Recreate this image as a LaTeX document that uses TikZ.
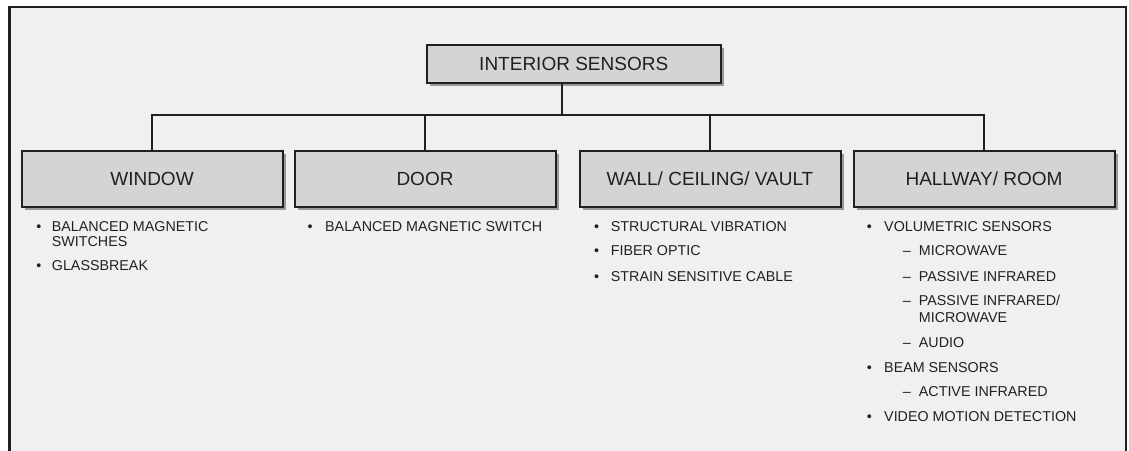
\documentclass[tikz,border=0pt]{standalone}
\usepackage{fontspec}
\setmainfont{Liberation Sans}
\usetikzlibrary{shadows}
\definecolor{ink}{HTML}{231F20}
\definecolor{panel}{HTML}{F0F0F0}
\definecolor{boxfill}{HTML}{D3D4D6}
\definecolor{shade}{HTML}{999999}
\tikzset{
  headbox/.style={draw=ink, line width=2pt, fill=boxfill, text=ink,
    font=\fontsize{19}{22}\selectfont, inner sep=0pt,
    drop shadow={shadow xshift=3.5pt, shadow yshift=-3.5pt, fill=shade, opacity=1}},
  catbox/.style={headbox, minimum width=261pt, minimum height=56pt},
  link/.style={draw=ink, line width=2pt},
  entry/.style={anchor=base west, inner sep=0pt, text=ink, font=\fontsize{14.3}{16}\selectfont},
  dot/.style={anchor=base, inner sep=0pt, text=ink, font=\fontsize{14.3}{16}\selectfont}
}
\begin{document}
\begin{tikzpicture}[x=1pt, y=-1pt]
\useasboundingbox (0,0) rectangle (1129,450);
% framed panel, open at the bottom
\fill[panel] (9.5,7) rectangle (1126,452);
\draw[ink, line width=2.4pt] (9.5,452) -- (9.5,7) -- (1126,7) -- (1126,452);

% boxes
\node[headbox, minimum width=294pt, minimum height=38pt] (top) at (573.7,63.7) {INTERIOR SENSORS};
\node[catbox] (win)  at (152,178.8) {WINDOW};
\node[catbox] (door) at (425,178.8) {DOOR};
\node[catbox] (wall) at (710,178.8) {WALL/ CEILING/ VAULT};
\node[catbox] (hall) at (984,178.8) {HALLWAY/ ROOM};

% connectors
\coordinate (bus) at (0,115);
\coordinate (stem) at (562,0);
\draw[link] (top.south -| stem) -- (stem |- bus);
\draw[link] (win.north) -- (win.north |- bus) -- (hall.north |- bus) -- (hall.north);
\draw[link] (door.north) -- (door.north |- bus);
\draw[link] (wall.north) -- (wall.north |- bus);

% WINDOW list
\node[dot]   (wb1) at (39,231.5) {•};
\node[entry] (wt1) at (51.7,231.5) {BALANCED MAGNETIC};
\node[entry] (wt1b) at (51.7,246.7) {SWITCHES};
\node[dot]   (wb2) at (39,270.7) {•};
\node[entry] (wt2) at (51.7,270.7) {GLASSBREAK};

% DOOR list
\node[dot]   (db1) at (310,231) {•};
\node[entry] (dt1) at (325,231) {BALANCED MAGNETIC SWITCH};

% WALL list
\node[dot]   (lb1) at (596.7,231) {•};
\node[entry] (lt1) at (610.7,231) {STRUCTURAL VIBRATION};
\node[dot]   (lb2) at (596.7,255) {•};
\node[entry] (lt2) at (610.7,255) {FIBER OPTIC};
\node[dot]   (lb3) at (596.7,281) {•};
\node[entry] (lt3) at (610.7,281) {STRAIN SENSITIVE CABLE};

% HALLWAY list
\node[dot]   (hb1) at (869.3,231.7) {•};
\node[entry] (ht1) at (884,231.7) {VOLUMETRIC SENSORS};
\node[entry] (hd1) at (902.7,255) {–};
\node[entry] (hs1) at (918.7,255) {MICROWAVE};
\node[entry] (hd2) at (902.7,281) {–};
\node[entry] (hs2) at (918.7,281) {PASSIVE INFRARED};
\node[entry] (hd3) at (902.7,305.7) {–};
\node[entry] (hs3) at (918.7,305.7) {PASSIVE INFRARED/};
\node[entry] (hs3b) at (918.7,322.3) {MICROWAVE};
\node[entry] (hd4) at (902.7,347.7) {–};
\node[entry] (hs4) at (918.7,347.7) {AUDIO};
\node[dot]   (hb2) at (869.3,372.3) {•};
\node[entry] (ht2) at (884,372.3) {BEAM SENSORS};
\node[entry] (hd5) at (902.7,396) {–};
\node[entry] (hs5) at (918.7,396) {ACTIVE INFRARED};
\node[dot]   (hb3) at (869.3,421.7) {•};
\node[entry] (ht3) at (884,421.7) {VIDEO MOTION DETECTION};
\end{tikzpicture}
\end{document}
